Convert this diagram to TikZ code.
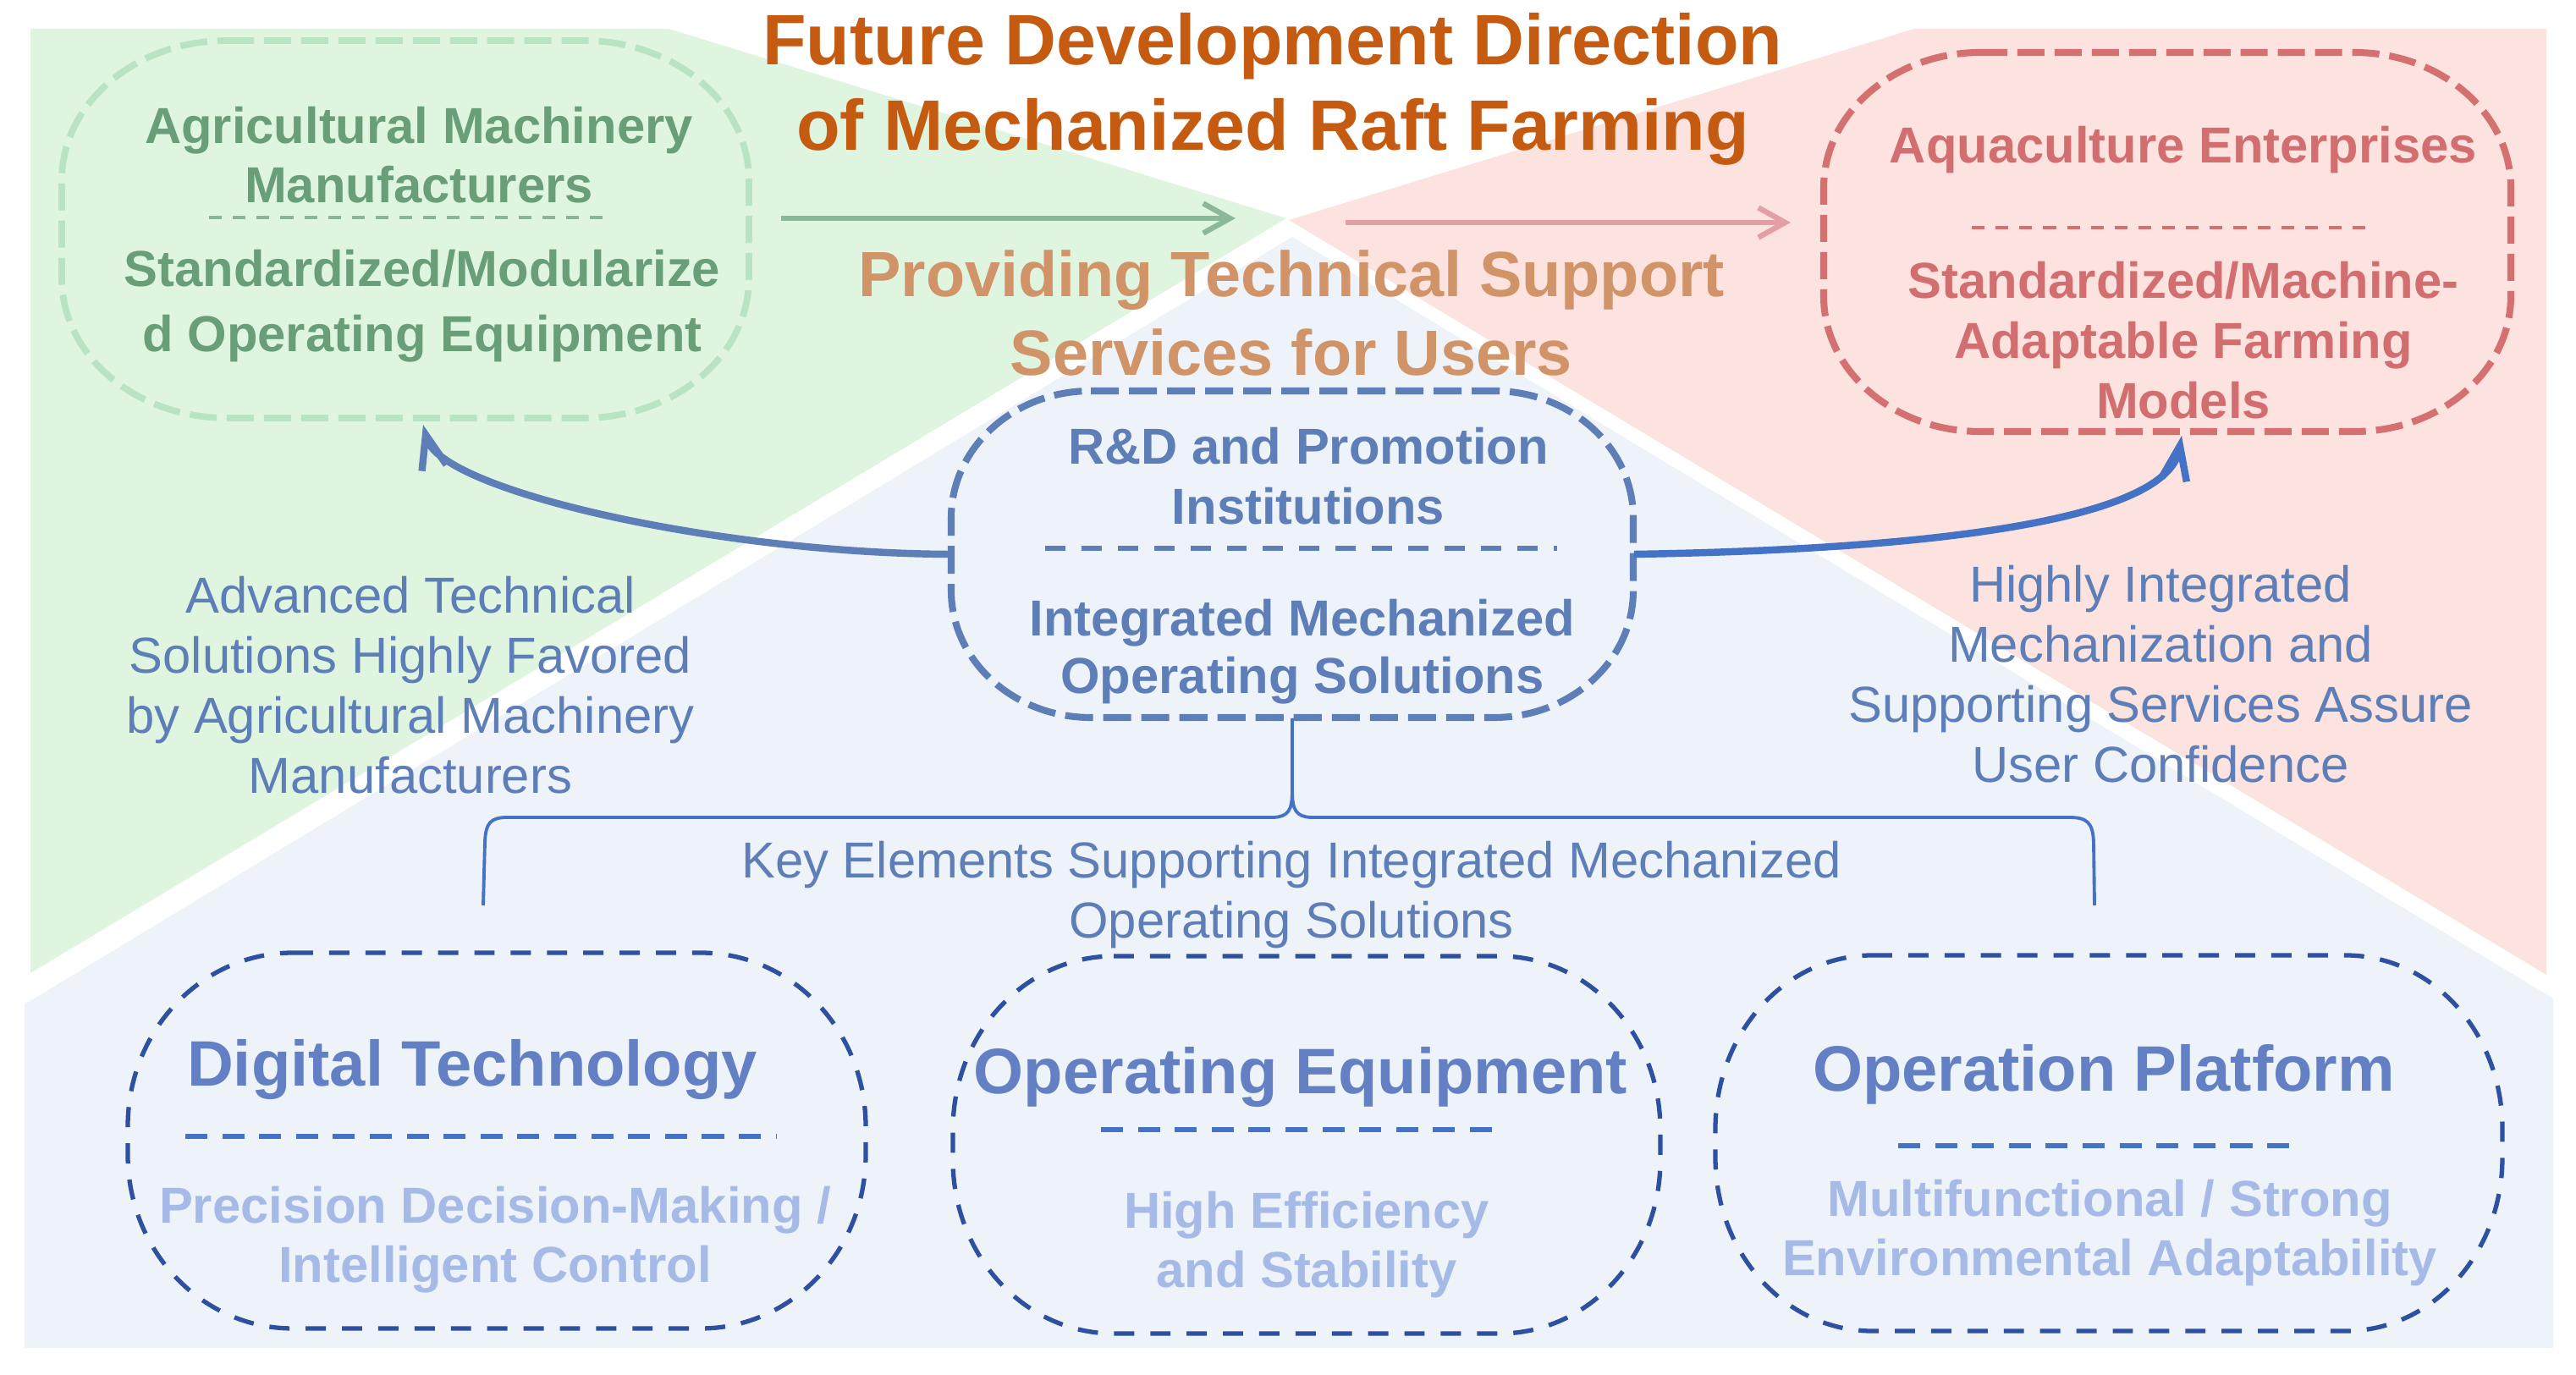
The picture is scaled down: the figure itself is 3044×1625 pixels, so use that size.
\documentclass[tikz,border=0pt]{standalone}
\usepackage{fontspec}
\setmainfont{Liberation Sans}
\usetikzlibrary{arrows.meta,calc}

\definecolor{bgGreen}{RGB}{223,245,224}
\definecolor{bgPink}{RGB}{253,227,224}
\definecolor{bgBlue}{RGB}{238,243,250}
\definecolor{titleOrange}{RGB}{197,90,17}
\definecolor{subOrange}{RGB}{208,148,104}
\definecolor{gStroke}{RGB}{184,228,196}
\definecolor{gText}{RGB}{104,158,120}
\definecolor{gDiv}{RGB}{140,180,150}
\definecolor{gArrow}{RGB}{140,184,154}
\definecolor{pStroke}{RGB}{212,112,112}
\definecolor{pText}{RGB}{210,110,112}
\definecolor{pArrow}{RGB}{226,160,166}
\definecolor{cBlue}{RGB}{94,126,184}
\definecolor{aBlue}{RGB}{68,114,196}
\definecolor{dBlue}{RGB}{45,80,160}
\definecolor{tBlue}{RGB}{99,128,196}
\definecolor{lBlue}{RGB}{166,186,232}

% oval outline: cx, cy, half width, half height, corner rx, corner ry (pixel units)
\newcommand\ovalpath[6]{%
  ({#1-#3+#5},{#2-#4}) -- ({#1+#3-#5},{#2-#4})
  .. controls ({#1+#3-0.4477*#5},{#2-#4}) and ({#1+#3},{#2-#4+0.4477*#6}) .. ({#1+#3},{#2-#4+#6})
  -- ({#1+#3},{#2+#4-#6})
  .. controls ({#1+#3},{#2+#4-0.4477*#6}) and ({#1+#3-0.4477*#5},{#2+#4}) .. ({#1+#3-#5},{#2+#4})
  -- ({#1-#3+#5},{#2+#4})
  .. controls ({#1-#3+0.4477*#5},{#2+#4}) and ({#1-#3},{#2+#4-0.4477*#6}) .. ({#1-#3},{#2+#4-#6})
  -- ({#1-#3},{#2-#4+#6})
  .. controls ({#1-#3},{#2-#4+0.4477*#6}) and ({#1-#3+0.4477*#5},{#2-#4}) .. ({#1-#3+#5},{#2-#4})
  -- cycle}

\tikzset{
  txt/.style={inner sep=0pt, align=center},
  b17/.style={font=\bfseries\fontsize{17}{20}\selectfont},
  r17/.style={font=\fontsize{17}{20.2}\selectfont},
  b21/.style={font=\bfseries\fontsize{21.6}{26}\selectfont},
  holder/.style={draw=none, inner sep=0pt, rectangle},
  gline/.style={draw=gStroke, line width=2.2pt, dash pattern=on 9.1pt off 3.4pt},
  pline/.style={draw=pStroke, line width=2.3pt, dash pattern=on 9.1pt off 3.4pt},
  cline/.style={draw=cBlue, line width=2.3pt, dash pattern=on 9.4pt off 3.4pt},
  dline/.style={draw=dBlue, line width=1.5pt, dash pattern=on 6.8pt off 5.4pt},
  smalldiv/.style={line width=1pt, dash pattern=on 4.3pt off 3.7pt},
  bigdiv/.style={draw=aBlue, line width=1.7pt, dash pattern=on 7.4pt off 5pt},
  flatarrow/.style={line width=1.8pt, -{Straight Barb[length=9pt,width=10pt]}},
  curvearrow/.style={line width=2.4pt, -{Straight Barb[length=11.5pt,width=8.5pt]}},
}

\begin{document}
\begin{tikzpicture}[x=0.01cm,y=-0.01cm]
\useasboundingbox (0,0) rectangle (3044,1625);
\fill[white] (0,0) rectangle (3044,1625);

% background regions
\fill[bgGreen] (36,34) -- (790,34) -- (1520,258) -- (36,1150) -- cycle;
\fill[bgPink] (1523,260) -- (2262,34) -- (3009,34) -- (3009,1152) -- cycle;
\fill[bgBlue] (29,1187) -- (1527,280) -- (3017,1180) -- (3017,1593) -- (29,1593) -- cycle;

% title
\node[txt, text=titleOrange, font=\bfseries\fontsize{24}{28.7}\selectfont] (title) at (1504,105)
  {Future Development Direction\\of Mechanized Raft Farming};
\node[txt, text=subOrange, font=\bfseries\fontsize{21.5}{26.7}\selectfont] (sub) at (1526,370)
  {Providing Technical Support\\Services for Users};

% green box
\node[holder, minimum width=8.12cm, minimum height=4.46cm] (gbox) at (479,271) {};
\draw[gline] \ovalpath{479}{271}{406}{223}{195}{165};
\node[txt, b17, text=gText] (gname) at (495,183) {Agricultural Machinery\\Manufacturers};
\draw[smalldiv, draw=gDiv] (247,257) -- (718,257);
\node[txt, text=gText, font=\bfseries\fontsize{17}{21.9}\selectfont] (gdesc) at (499,362)
  {Standardized/Modularize\\d Operating Equipment};

% pink box
\node[holder, minimum width=8.12cm, minimum height=4.48cm] (pbox) at (2561,286) {};
\draw[pline] \ovalpath{2561}{286}{406}{224}{185}{160};
\node[txt, b17, text=pText, anchor=base] (pname) at (2580,193) {Aquaculture Enterprises};
\draw[smalldiv, draw=pStroke] (2330,269) -- (2800,269);
\node[txt, text=pText, font=\bfseries\fontsize{17}{20.2}\selectfont] (pdesc) at (2580,402)
  {Standardized/Machine-\\Adaptable Farming\\Models};

% flat arrows
\coordinate (ga1) at (923,258);
\coordinate (ga2) at (1460,258);
\draw[flatarrow, gArrow] (ga1) -- (ga2);
\coordinate (pa1) at (1590,263);
\coordinate (pa2) at (2116,263);
\draw[flatarrow, pArrow] (pa1) -- (pa2);

% center box
\node[holder, minimum width=8.06cm, minimum height=3.86cm] (rd) at (1527,655) {};
\draw[cline] \ovalpath{1527}{655}{403}{193}{165}{150};
\node[txt, text=cBlue, font=\bfseries\fontsize{17}{20.2}\selectfont] (rdname) at (1546,563)
  {R\&D and Promotion\\Institutions};
\draw[draw=cBlue, line width=1.5pt, dash pattern=on 6.8pt off 5.4pt] (1235,648) -- (1840,648);
\node[txt, text=cBlue, font=\bfseries\fontsize{17}{19.5}\selectfont] (rddesc) at (1539,770)
  {Integrated Mechanized\\Operating Solutions};

% curved arrows
\coordinate (gtip) at (500,502);
\coordinate (ptip) at (2578,515);
\draw[curvearrow, draw=cBlue] (rd.west) .. controls (850,654) and (520,580) .. (gtip);
\draw[curvearrow, draw=aBlue] (rd.east) .. controls (2250,650) and (2560,620) .. (ptip);

% side texts
\node[txt, r17, text=cBlue] (lefttxt) at (485,810)
  {Advanced Technical\\Solutions Highly Favored\\by Agricultural Machinery\\Manufacturers};
\node[txt, r17, text=cBlue] (righttxt) at (2553,797)
  {Highly Integrated\\Mechanization and\\Supporting Services Assure\\User Confidence};

% brace
\draw[aBlue, line width=1.1pt] (rd.south) -- (1527,935)
  .. controls (1527,958) and (1522,965) .. (1505,966) -- (600,966)
  .. controls (580,966) and (574,972) .. (573,995) -- (571,1070);
\draw[aBlue, line width=1.1pt] (1527,935)
  .. controls (1527,958) and (1532,965) .. (1549,966) -- (2445,966)
  .. controls (2466,966) and (2473,972) .. (2474,995) -- (2475,1070);
\node[txt, r17, text=cBlue] (keytxt) at (1526,1058)
  {Key Elements Supporting Integrated Mechanized\\Operating Solutions};

% bottom boxes
\node[holder, minimum width=8.72cm, minimum height=4.44cm] (dbox) at (587,1348) {};
\draw[dline] \ovalpath{587}{1348}{436}{222}{195}{205};
\node[txt, b21, text=tBlue, anchor=base] (dtitle) at (558,1283) {Digital Technology};
\draw[bigdiv] (219,1343) -- (918,1343);
\node[txt, b17, text=lBlue] (ddesc) at (585,1465) {Precision Decision-Making /\\Intelligent Control};

\node[holder, minimum width=8.36cm, minimum height=4.46cm] (ebox) at (1544,1353) {};
\draw[dline] \ovalpath{1544}{1353}{418}{223}{190}{205};
\node[txt, b21, text=tBlue, anchor=base] (etitle) at (1537,1292) {Operating Equipment};
\draw[bigdiv] (1301,1335) -- (1777,1335);
\node[txt, b17, text=lBlue] (edesc) at (1544,1471) {High Efficiency\\and Stability};

\node[holder, minimum width=9.3cm, minimum height=4.44cm] (plbox) at (2492,1351) {};
\draw[dline] \ovalpath{2492}{1351}{465}{222}{185}{205};
\node[txt, b21, text=tBlue, anchor=base] (pltitle) at (2486,1289) {Operation Platform};
\draw[bigdiv] (2243,1354) -- (2715,1354);
\node[txt, b17, text=lBlue] (pldesc) at (2493,1457) {Multifunctional / Strong\\Environmental Adaptability};

\end{tikzpicture}
\end{document}
